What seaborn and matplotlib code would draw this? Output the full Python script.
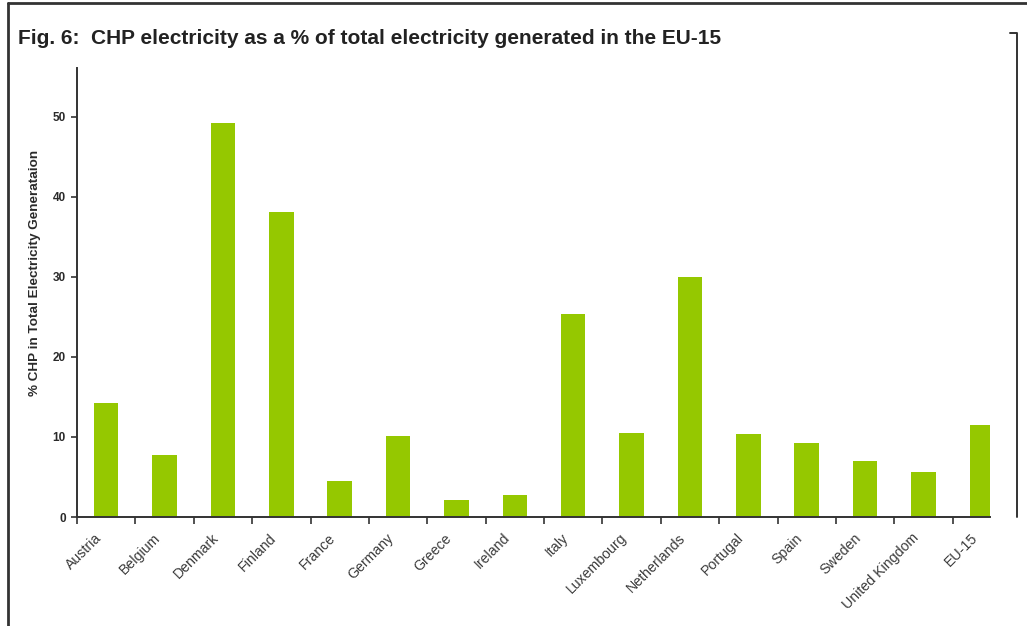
import matplotlib
matplotlib.use("Agg")
import matplotlib.pyplot as plt
import seaborn as sns
import pandas as pd
from matplotlib.lines import Line2D
from matplotlib.ticker import FixedLocator

countries = ["Austria", "Belgium", "Denmark", "Finland", "France", "Germany", "Greece",
             "Ireland", "Italy", "Luxembourg", "Netherlands", "Portugal", "Spain",
             "Sweden", "United Kingdom", "EU-15"]
chp_share = [14.2, 7.7, 49.2, 38.1, 4.5, 10.1, 2.1, 2.7, 25.4, 10.5, 30.0, 10.4,
             9.2, 7.0, 5.6, 11.5]
y_ticks = [0, 10, 20, 30, 40, 50]

sns.set_theme(style="white")
plt.rcParams['font.family'] = ['Liberation Sans', 'DejaVu Sans']

df = pd.DataFrame({"country": countries, "share": chp_share})

fig = plt.figure(figsize=(10.27, 6.26), dpi=100)
ax = fig.add_axes([77/1027, 1 - 517/626, (990-77)/1027, (517-68)/626])
sns.barplot(data=df, x="country", y="share", color="#95c800", width=0.42,
            saturation=1, ax=ax, edgecolor="none")

ax.set_xlim(-0.5, 15.14)
ax.set_ylim(0, 56.1)
ax.set_yticks(y_ticks)
ax.set_yticklabels([str(v) for v in y_ticks], fontsize=8.5, fontweight="bold", color="#2a2a2a")
# label anchors placed slightly left of each bar centre, as in the reference
ax.set_xticks([i - 0.2 for i in range(len(countries))])
ax.set_xticklabels(countries, rotation=45, ha="right", rotation_mode="anchor",
                   fontsize=10.2, color="#3a3a3a")
ax.xaxis.set_minor_locator(FixedLocator([i - 0.5 for i in range(len(countries))]))
ax.tick_params(axis="x", which="major", length=0, pad=10)
ax.tick_params(axis="x", which="minor", length=5, width=1.2, color="#333333", direction="out", bottom=True)
ax.tick_params(axis="y", which="major", length=4, width=1.2, color="#333333", direction="out", left=True, pad=4)
ax.set_xlabel("")
ax.set_ylabel("% CHP in Total Electricity Generataion", fontsize=9.7, fontweight="bold",
              color="#2a2a2a", va="center")
ax.yaxis.set_label_coords(-0.046, 0.543)
for s in ["top", "right"]:
    ax.spines[s].set_visible(False)
for s in ["left", "bottom"]:
    ax.spines[s].set_color("#333333")
    ax.spines[s].set_linewidth(1.4)

fig.text(18/1027, 1 - 38/626, "Fig. 6:  CHP electricity as a % of total electricity generated in the EU-15",
         fontsize=15, fontweight="bold", color="#222222", va="center", ha="left",
         family=["Liberation Sans Narrow", "Liberation Sans", "DejaVu Sans"])

W, H = 1027, 626
def fl(xs, ys, lw=2.0, c="#333333"):
    fig.add_artist(Line2D([x / W for x in xs], [1 - y / H for y in ys], lw=lw, color=c,
                          transform=fig.transFigure))
fl([8, 8], [3, 626])
fl([8, 1027], [3, 3])
fl([1010, 1017, 1017], [33, 33, 517], lw=1.4)

fig.savefig("out.png", dpi=100)
